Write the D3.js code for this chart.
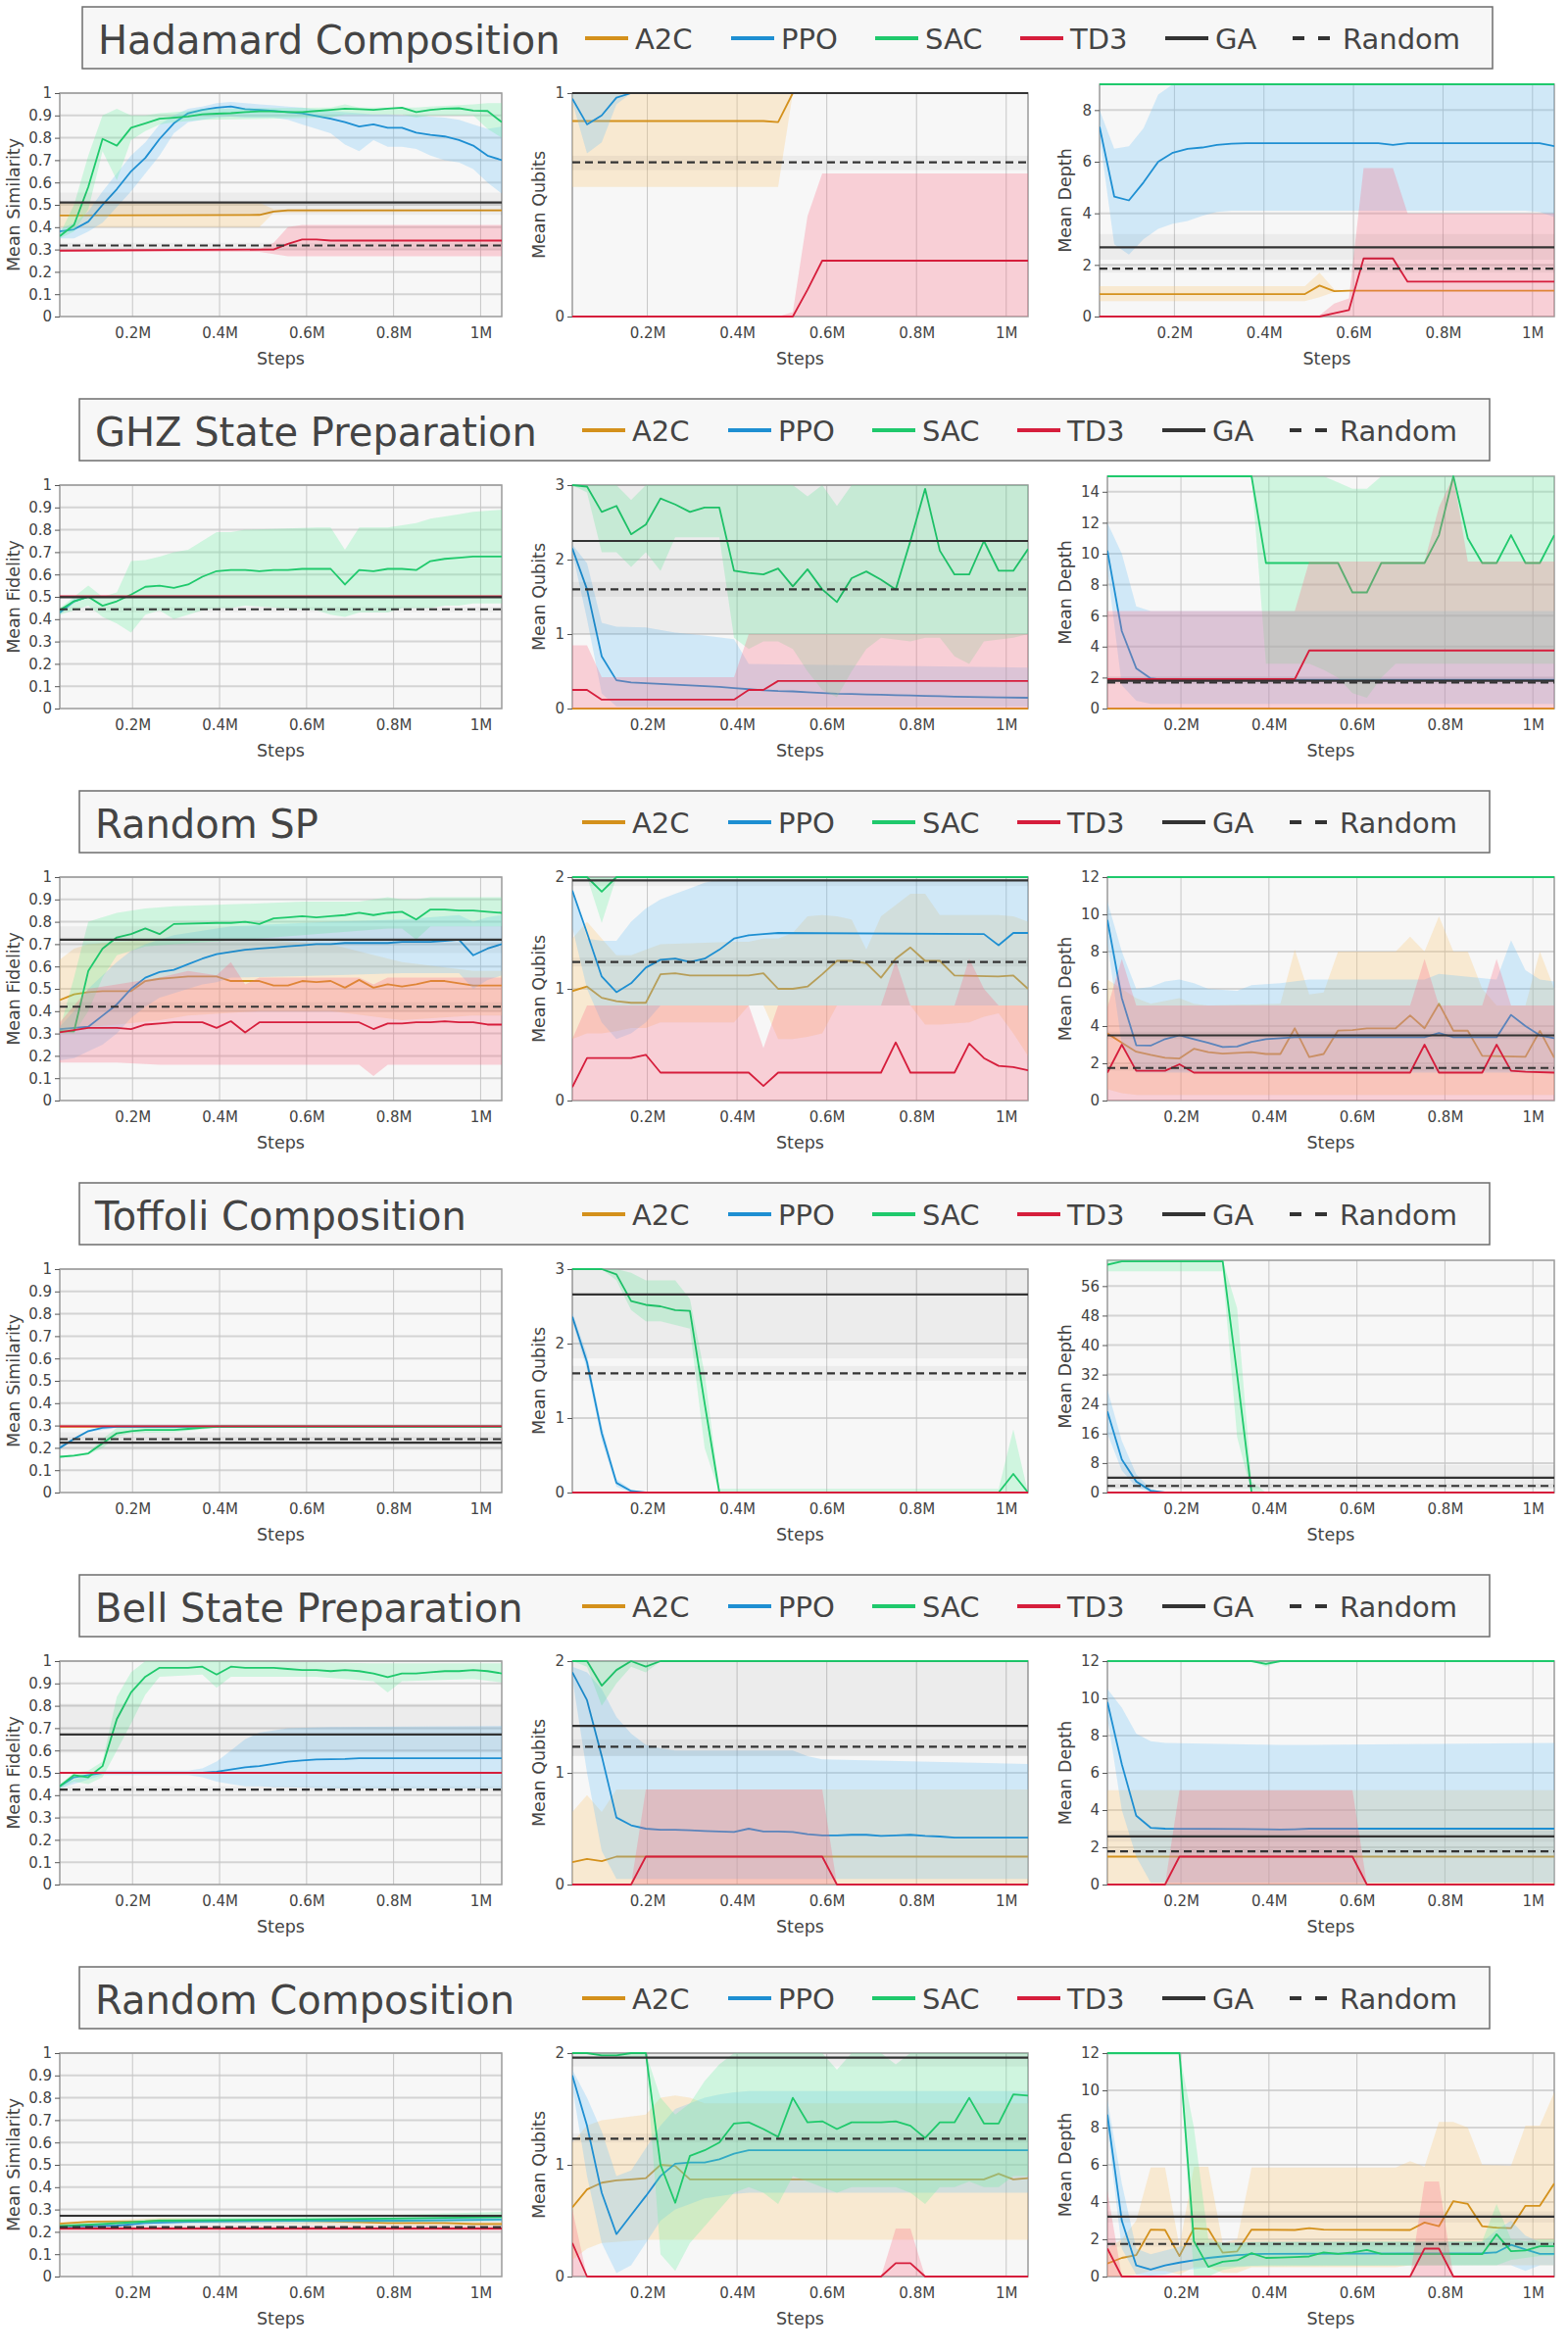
<!DOCTYPE html>
<html><head><meta charset="utf-8">
<script src="https://cdnjs.cloudflare.com/ajax/libs/d3/7.8.5/d3.min.js"></script>
<style>body{margin:0;background:#fff}svg{display:block}text{font-family:"DejaVu Sans",Verdana,sans-serif}</style>
</head><body><svg id="chart" width="1600" height="2400"></svg>
<script>
// ---------------- data ----------------
const STEP = 32768; // x = k * STEP (k = 1..32)
const X_TICKS = [200000,400000,600000,800000,1000000];
const X_TICK_LABELS = ["0.2M","0.4M","0.6M","0.8M","1M"];
const ROW_TITLES = ["Hadamard Composition","GHZ State Preparation","Random SP","Toffoli Composition","Bell State Preparation","Random Composition"];
const LEGEND_NAMES = ["A2C","PPO","SAC","TD3","GA","Random"];
const SIM_TICKS = [0,0.1,0.2,0.3,0.4,0.5,0.6,0.7,0.8,0.9,1];
const T01 = [0,1], T012 = [0,1,2], T0123 = [0,1,2,3];
const TD9 = [0,2,4,6,8], TD15 = [0,2,4,6,8,10,12,14], TD12 = [0,2,4,6,8,10,12], TD63 = [0,8,16,24,32,40,48,56];

// lines: [k, mean]; bands: [k, lo, hi]; GA / Random: [value, lo, hi]
// Hadamard Composition
const HAD_SIM_A2C = [[1,.452],[15,.455],[16,.47],[17,.475],[32,.475]];
const HAD_SIM_A2C_B = [[1,.40,.51],[15,.40,.51],[16,.465,.48],[32,.47,.48]];
const HAD_SIM_PPO = [[1,.381],[2,.39],[3,.425],[4,.50],[5,.57],[6,.65],[7,.71],[8,.795],[9,.865],[10,.91],[11,.925],[12,.935],[13,.94],[14,.928],[15,.925],[16,.92],[17,.915],[18,.91],[19,.897],[20,.885],[21,.87],[22,.85],[23,.86],[24,.845],[25,.845],[26,.823],[27,.813],[28,.806],[29,.79],[30,.765],[31,.72],[32,.70]];
const HAD_SIM_PPO_B = [[1,.35,.39],[2,.35,.42],[3,.38,.47],[4,.42,.56],[5,.49,.64],[6,.56,.72],[7,.64,.78],[8,.72,.86],[9,.82,.90],[10,.87,.93],[11,.88,.94],[12,.89,.955],[13,.895,.96],[14,.89,.955],[15,.89,.95],[16,.89,.945],[17,.88,.94],[18,.86,.935],[19,.84,.925],[20,.82,.92],[21,.77,.915],[22,.74,.91],[23,.79,.905],[24,.76,.905],[25,.76,.90],[26,.75,.90],[27,.72,.895],[28,.70,.89],[29,.69,.88],[30,.66,.86],[31,.60,.84],[32,.55,.85]];
const HAD_SIM_SAC = [[1,.36],[2,.41],[3,.58],[4,.795],[5,.765],[6,.845],[7,.865],[8,.885],[9,.89],[10,.895],[11,.905],[12,.908],[13,.91],[14,.915],[15,.918],[16,.918],[17,.915],[18,.915],[19,.92],[20,.925],[21,.93],[22,.928],[23,.925],[24,.93],[25,.935],[26,.915],[27,.925],[28,.93],[29,.932],[30,.922],[31,.92],[32,.87]];
const HAD_SIM_SAC_B = [[1,.35,.37],[2,.38,.50],[3,.48,.72],[4,.74,.90],[5,.61,.93],[6,.79,.90],[7,.83,.90],[8,.86,.91],[9,.87,.915],[10,.875,.92],[11,.88,.93],[20,.89,.935],[21,.905,.95],[22,.905,.935],[25,.905,.935],[26,.89,.935],[27,.90,.94],[30,.90,.95],[31,.84,.955],[32,.80,.955]];
const HAD_SIM_TD3 = [[1,.295],[16,.30],[17,.325],[18,.345],[19,.345],[20,.34],[32,.34]];
const HAD_SIM_TD3_B = [[1,.29,.30],[15,.29,.30],[16,.28,.33],[17,.27,.40],[18,.27,.41],[32,.27,.41]];
const HAD_SIM_GA = [.51,.455,.555], HAD_SIM_RND = [.318,.305,.33];

const HAD_QUB_A2C = [[1,.875],[14,.875],[15,.87],[16,1],[32,1]];
const HAD_QUB_A2C_B = [[1,.58,1],[15,.58,1],[16,1,1],[32,1,1]];
const HAD_QUB_PPO = [[1,.975],[2,.86],[3,.90],[4,.98],[5,1],[32,1]];
const HAD_QUB_PPO_B = [[1,.96,1],[2,.73,1],[3,.78,1],[4,.95,1],[5,1,1],[32,1,1]];
const HAD_QUB_SAC = [[1,1],[32,1]];
const HAD_QUB_SAC_B = null;
const HAD_QUB_TD3 = [[1,0],[16,0],[17,.12],[18,.25],[32,.25]];
const HAD_QUB_TD3_B = [[1,0,0],[15,0,0],[16,0,.02],[17,0,.45],[18,0,.64],[32,0,.64]];
const HAD_QUB_GA = [1,1,1], HAD_QUB_RND = [.69,.655,.72];

const HAD_DEP_A2C = [[1,.87],[15,.87],[16,1.2],[17,.98],[18,1],[32,1]];
const HAD_DEP_A2C_B = [[1,.6,1.18],[15,.6,1.18],[16,.75,1.7],[17,.95,1.05],[18,1,1],[32,1,1]];
const HAD_DEP_PPO = [[1,7.35],[2,4.65],[3,4.5],[4,5.2],[5,6.0],[6,6.35],[7,6.5],[8,6.55],[9,6.65],[10,6.7],[11,6.72],[20,6.72],[21,6.65],[22,6.72],[31,6.72],[32,6.6]];
const HAD_DEP_PPO_B = [[1,7.0,8.0],[2,2.8,6.5],[3,2.4,6.6],[4,3.0,7.3],[5,3.4,8.6],[6,3.6,9],[7,3.7,9],[8,3.9,9],[9,4.05,9],[10,4.1,9],[30,4.1,9],[31,4.05,9],[32,3.85,9]];
const HAD_DEP_SAC = [[1,9],[32,9]];
const HAD_DEP_SAC_B = null;
const HAD_DEP_TD3 = [[1,0],[16,0],[17,.13],[18,.25],[19,2.25],[21,2.25],[22,1.35],[32,1.35]];
const HAD_DEP_TD3_B = [[1,0,0],[16,0,.05],[17,0,.5],[18,0,.7],[19,0,5.75],[21,0,5.75],[22,0,4.0],[32,0,4.0]];
const HAD_DEP_GA = [2.68,2.2,3.2], HAD_DEP_RND = [1.855,1.7,2.0];

// GHZ State Preparation
const GHZ_FID_A2C = [[1,.5],[32,.5]];
const GHZ_FID_A2C_B = null;
const GHZ_FID_PPO = [[1,.43],[2,.48],[3,.50],[32,.50]];
const GHZ_FID_PPO_B = [[1,.42,.44],[2,.47,.49],[3,.5,.5],[32,.5,.5]];
const GHZ_FID_SAC = [[1,.44],[2,.48],[3,.50],[4,.46],[5,.48],[6,.51],[7,.545],[8,.55],[9,.54],[10,.555],[11,.59],[12,.615],[13,.62],[14,.62],[15,.615],[16,.62],[17,.62],[18,.625],[19,.625],[20,.625],[21,.555],[22,.62],[23,.615],[24,.625],[25,.625],[26,.62],[27,.66],[28,.67],[29,.675],[30,.68],[31,.68],[32,.68]];
const GHZ_FID_SAC_B = [[1,.42,.45],[2,.44,.50],[3,.46,.55],[4,.41,.50],[5,.38,.52],[6,.34,.66],[7,.42,.665],[8,.44,.68],[9,.40,.70],[10,.42,.71],[11,.44,.75],[12,.45,.79],[13,.45,.79],[14,.46,.80],[19,.44,.81],[20,.42,.81],[21,.41,.71],[22,.43,.81],[24,.43,.81],[25,.45,.82],[26,.45,.83],[27,.45,.85],[28,.46,.86],[29,.46,.87],[30,.47,.88],[32,.47,.89]];
const GHZ_FID_TD3 = [[1,.503],[32,.503]];
const GHZ_FID_TD3_B = null;
const GHZ_FID_GA = [.498,.498,.498], GHZ_FID_RND = [.444,.43,.455];

const GHZ_QUB_A2C = [[1,0],[32,0]];
const GHZ_QUB_A2C_B = null;
const GHZ_QUB_PPO = [[1,2.15],[2,1.6],[3,.7],[4,.38],[5,.35],[6,.34],[7,.33],[8,.32],[9,.31],[10,.30],[11,.29],[12,.275],[13,.26],[14,.245],[15,.235],[16,.23],[17,.22],[18,.21],[19,.20],[20,.195],[21,.19],[22,.185],[23,.18],[24,.175],[25,.17],[26,.165],[27,.16],[28,.155],[30,.15],[32,.145]];
const GHZ_QUB_PPO_B = [[1,2.1,2.2],[2,1.2,1.95],[3,.2,1.15],[4,.03,1.1],[6,.03,1.09],[8,.03,1.02],[10,.03,.98],[12,.03,.93],[13,.03,.6],[32,.03,.55]];
const GHZ_QUB_SAC = [[1,3],[2,2.98],[3,2.64],[4,2.72],[5,2.34],[6,2.47],[7,2.82],[8,2.74],[9,2.64],[10,2.7],[11,2.7],[12,1.85],[13,1.82],[14,1.8],[15,1.88],[16,1.64],[17,1.87],[18,1.6],[19,1.43],[20,1.75],[21,1.84],[22,1.73],[23,1.6],[24,2.25],[25,2.95],[26,2.12],[27,1.8],[28,1.8],[29,2.25],[30,1.85],[31,1.85],[32,2.14]];
const GHZ_QUB_SAC_B = [[1,3,3],[2,2.9,3],[3,2.1,3],[4,2.1,3],[5,1.9,2.8],[6,2.1,3],[7,1.85,3],[8,2.3,3],[11,2.3,3],[12,.95,3],[13,.8,3],[14,.9,3],[15,.9,3],[16,.8,3],[17,.5,2.85],[18,.25,3],[19,.15,2.72],[20,.5,3],[21,.8,3],[22,.95,3],[24,.9,3],[25,.95,3],[26,.95,3],[27,.7,3],[28,.6,3],[29,.9,3],[31,.95,3],[32,1.0,3]];
const GHZ_QUB_TD3 = [[1,.25],[2,.25],[3,.12],[12,.12],[13,.25],[14,.25],[15,.37],[32,.37]];
const GHZ_QUB_TD3_B = [[1,0,.85],[2,0,.85],[3,0,.42],[12,0,.42],[13,0,1.0],[32,0,1.0]];
const GHZ_QUB_GA = [2.25,1.0,3.0], GHZ_QUB_RND = [1.6,1.5,1.7];

const GHZ_DEP_A2C = [[1,0],[32,0]];
const GHZ_DEP_A2C_B = null;
const GHZ_DEP_PPO = [[1,10.2],[2,5.0],[3,2.6],[4,1.95],[5,1.85],[32,1.85]];
const GHZ_DEP_PPO_B = [[1,9,12],[2,1.5,10],[3,.5,6.6],[4,.3,6.3],[32,.3,6.3]];
const GHZ_DEP_SAC = [[1,15],[11,15],[12,9.4],[17,9.4],[18,7.5],[19,7.5],[20,9.4],[23,9.4],[24,11.2],[25,15],[26,11],[27,9.4],[28,9.4],[29,11.2],[30,9.4],[31,9.4],[32,11.2]];
const GHZ_DEP_SAC_B = [[1,15,15],[11,15,15],[12,2.9,15],[15,2.9,15],[16,2.5,15],[17,2.0,14.6],[18,1.0,14.2],[19,.7,14.2],[20,2.0,15],[21,2.9,15],[32,2.9,15]];
const GHZ_DEP_TD3 = [[1,1.9],[14,1.9],[15,3.75],[32,3.75]];
const GHZ_DEP_TD3_B = [[1,0,6.3],[14,0,6.3],[15,0,9.5],[23,0,9.5],[24,0,13],[25,0,15],[26,0,9.5],[32,0,9.5]];
const GHZ_DEP_GA = [1.8,1.8,1.8], GHZ_DEP_RND = [1.68,1.6,1.76];

// Random SP
const RSP_FID_A2C = [[1,.45],[2,.475],[3,.485],[4,.49],[6,.49],[7,.535],[8,.545],[9,.55],[10,.555],[12,.555],[13,.535],[15,.535],[16,.515],[17,.515],[18,.535],[19,.53],[20,.535],[21,.505],[22,.54],[23,.505],[24,.52],[25,.51],[26,.52],[27,.535],[28,.535],[29,.525],[30,.515],[32,.515]];
const RSP_FID_A2C_B = [[1,.30,.63],[2,.32,.68],[3,.33,.70],[5,.34,.71],[8,.36,.72],[10,.38,.72],[15,.40,.72],[20,.40,.70],[25,.36,.62],[30,.38,.58],[32,.38,.58]];
const RSP_FID_PPO = [[1,.32],[2,.325],[3,.33],[4,.38],[5,.43],[6,.50],[7,.55],[8,.575],[9,.585],[10,.61],[11,.635],[12,.655],[13,.665],[14,.675],[15,.68],[16,.685],[17,.69],[18,.695],[19,.70],[20,.70],[21,.705],[24,.705],[25,.71],[27,.71],[28,.715],[29,.72],[30,.65],[31,.68],[32,.70]];
const RSP_FID_PPO_B = [[1,.18,.33],[2,.19,.40],[3,.22,.50],[4,.25,.56],[5,.30,.62],[6,.37,.67],[7,.42,.70],[8,.46,.72],[9,.48,.74],[10,.50,.75],[11,.52,.76],[12,.53,.77],[13,.55,.78],[20,.56,.80],[25,.57,.81],[29,.57,.83],[30,.50,.80],[31,.54,.82],[32,.56,.83]];
const RSP_FID_SAC = [[1,.31],[2,.31],[3,.58],[4,.68],[5,.73],[6,.745],[7,.77],[8,.745],[9,.79],[12,.795],[13,.795],[14,.80],[15,.79],[16,.815],[17,.82],[18,.825],[19,.82],[20,.825],[21,.83],[22,.84],[23,.83],[24,.84],[25,.845],[26,.81],[27,.855],[28,.855],[29,.85],[30,.85],[31,.845],[32,.84]];
const RSP_FID_SAC_B = [[1,.30,.32],[2,.30,.55],[3,.40,.80],[4,.55,.82],[5,.65,.84],[6,.67,.85],[7,.69,.86],[9,.70,.87],[14,.72,.88],[18,.74,.89],[22,.76,.89],[24,.77,.91],[25,.77,.90],[26,.72,.90],[27,.78,.91],[32,.78,.91]];
const RSP_FID_TD3 = [[1,.305],[2,.315],[3,.325],[5,.325],[6,.32],[7,.34],[8,.345],[9,.35],[11,.35],[12,.325],[13,.355],[14,.305],[15,.35],[22,.35],[23,.32],[24,.345],[25,.345],[26,.35],[27,.35],[28,.355],[29,.35],[30,.35],[31,.34],[32,.34]];
const RSP_FID_TD3_B = [[1,.17,.35],[3,.17,.50],[5,.17,.52],[8,.16,.55],[10,.16,.58],[12,.16,.56],[13,.16,.62],[14,.16,.52],[15,.16,.55],[22,.16,.55],[23,.11,.52],[24,.16,.55],[32,.16,.55]];
const RSP_FID_GA = [.72,.66,.78], RSP_FID_RND = [.42,.40,.44];

const RSP_QUB_A2C = [[1,.98],[2,1.02],[3,.92],[4,.89],[5,.875],[6,.875],[7,1.13],[8,1.14],[9,1.12],[13,1.12],[14,1.14],[15,1.0],[16,1.0],[17,1.02],[18,1.13],[19,1.25],[20,1.25],[21,1.23],[22,1.1],[23,1.27],[24,1.37],[25,1.25],[26,1.25],[27,1.12],[30,1.11],[31,1.12],[32,1.0]];
const RSP_QUB_A2C_B = [[1,.55,1.45],[2,.6,1.6],[3,.6,1.45],[4,.62,1.3],[5,.65,1.3],[6,.65,1.35],[7,.7,1.4],[12,.7,1.42],[13,.85,1.42],[14,.85,1.45],[15,.55,1.45],[16,.55,1.5],[17,.57,1.65],[18,.6,1.66],[19,.85,1.65],[20,.85,1.62],[21,.85,1.35],[22,.85,1.65],[23,.85,1.75],[24,.85,1.85],[25,.68,1.85],[26,.68,1.66],[28,.7,1.66],[29,.75,1.66],[30,.78,1.66],[31,.6,1.65],[32,.4,1.6]];
const RSP_QUB_PPO = [[1,1.88],[2,1.5],[3,1.11],[4,.97],[5,1.05],[6,1.19],[7,1.26],[8,1.27],[9,1.24],[10,1.27],[11,1.35],[12,1.45],[13,1.48],[14,1.49],[15,1.5],[29,1.49],[30,1.39],[31,1.5],[32,1.5]];
const RSP_QUB_PPO_B = [[1,1.55,1.9],[2,1.0,1.45],[3,.7,1.43],[4,.55,1.43],[5,.6,1.6],[6,.7,1.72],[7,.85,1.8],[8,.85,1.85],[9,.85,1.9],[10,.85,1.95],[11,.85,1.98],[32,.85,1.98]];
const RSP_QUB_SAC = [[1,2],[2,2],[3,1.87],[4,2],[32,2]];
const RSP_QUB_SAC_B = [[1,2,2],[2,2,2],[3,1.59,2],[4,2,2],[32,2,2]];
const RSP_QUB_TD3 = [[1,.12],[2,.38],[5,.38],[6,.41],[7,.25],[13,.25],[14,.13],[15,.25],[22,.25],[23,.52],[24,.25],[27,.25],[28,.51],[29,.38],[30,.31],[31,.30],[32,.27]];
const RSP_QUB_TD3_B = [[1,0,.55],[2,0,.85],[13,0,.85],[14,0,.47],[15,0,.85],[22,0,.85],[23,0,1.25],[24,0,.85],[27,0,.85],[28,0,1.27],[29,0,1.0],[30,0,.85],[32,0,.85]];
const RSP_QUB_GA = [1.97,1.92,2.0], RSP_QUB_RND = [1.24,1.2,1.28];

const RSP_DEP_A2C = [[1,3.6],[2,3.1],[3,2.62],[4,2.45],[5,2.3],[6,2.26],[7,2.78],[8,2.6],[9,2.52],[11,2.6],[12,2.5],[13,2.5],[14,3.88],[15,2.34],[16,2.5],[17,3.76],[18,3.78],[19,3.88],[21,3.88],[22,4.57],[23,3.88],[24,5.2],[25,3.75],[26,3.75],[27,2.4],[30,2.35],[31,3.74],[32,2.3]];
const RSP_DEP_A2C_B = [[1,.6,6.5],[2,.4,6.0],[3,.3,5.5],[4,.3,5.2],[6,.3,5.5],[7,.3,5.2],[8,.3,5.1],[13,.3,5.2],[14,.3,8.1],[15,.3,5.7],[16,.3,5.8],[17,.3,8.0],[21,.3,8.0],[22,.3,8.8],[23,.3,8.0],[24,.3,9.9],[25,.3,8.0],[26,.3,8.0],[27,.3,6.0],[28,.3,5.1],[30,.3,5.1],[31,.3,8.0],[32,.3,6.0]];
const RSP_DEP_PPO = [[1,9.7],[2,5.5],[3,2.97],[4,2.95],[5,3.3],[6,3.5],[7,3.3],[8,3.1],[9,2.87],[10,2.9],[11,3.15],[12,3.3],[13,3.35],[14,3.4],[23,3.4],[24,3.62],[25,3.4],[28,3.4],[29,4.6],[30,4.0],[31,3.5],[32,3.35]];
const RSP_DEP_PPO_B = [[1,8.5,10.7],[2,3,8],[3,1.5,6.0],[4,1.5,6.1],[5,1.5,6.4],[6,1.5,6.5],[7,1.5,6.3],[8,1.5,6.0],[10,1.5,5.9],[11,1.5,6.2],[13,1.5,6.3],[15,1.5,6.5],[23,1.5,6.5],[24,1.5,6.8],[28,1.5,6.5],[29,1.5,8.6],[30,1.5,7.0],[31,1.5,6.5],[32,1.5,6.4]];
const RSP_DEP_SAC = [[1,12],[32,12]];
const RSP_DEP_SAC_B = null;
const RSP_DEP_TD3 = [[1,1.5],[2,3.0],[3,1.6],[5,1.6],[6,1.95],[7,1.5],[22,1.5],[23,3.0],[24,1.5],[27,1.5],[28,3.0],[29,1.6],[30,1.55],[32,1.5]];
const RSP_DEP_TD3_B = [[1,0,5.0],[2,0,7.6],[3,0,5.1],[22,0,5.1],[23,0,7.6],[24,0,5.1],[27,0,5.1],[28,0,7.6],[29,0,5.1],[32,0,5.1]];
const RSP_DEP_GA = [3.5,3.3,3.7], RSP_DEP_RND = [1.75,1.6,1.9];

// Toffoli Composition
const TOF_SIM_A2C = [[1,.295],[32,.295]];
const TOF_SIM_A2C_B = null;
const TOF_SIM_PPO = [[1,.20],[2,.24],[3,.275],[4,.29],[5,.295],[32,.295]];
const TOF_SIM_PPO_B = [[1,.195,.21],[3,.27,.28],[5,.29,.30],[32,.29,.30]];
const TOF_SIM_SAC = [[1,.16],[2,.165],[3,.175],[4,.22],[5,.265],[6,.275],[7,.28],[9,.28],[10,.285],[11,.29],[12,.295],[32,.295]];
const TOF_SIM_SAC_B = [[1,.155,.165],[3,.17,.18],[4,.20,.24],[5,.25,.29],[6,.265,.29],[9,.27,.29],[12,.29,.30],[32,.29,.30]];
const TOF_SIM_TD3 = [[1,.297],[32,.297]];
const TOF_SIM_TD3_B = null;
const TOF_SIM_GA = [.223,.19,.27], TOF_SIM_RND = [.239,.23,.25];

const TOF_QUB_A2C = [[1,0],[32,0]];
const TOF_QUB_A2C_B = null;
const TOF_QUB_PPO = [[1,2.36],[2,1.75],[3,.8],[4,.13],[5,.02],[6,0],[32,0]];
const TOF_QUB_PPO_B = [[1,2.3,2.42],[2,1.65,1.85],[3,.7,.9],[4,.08,.18],[5,0,.04],[6,0,0],[32,0,0]];
const TOF_QUB_SAC = [[1,3],[3,3],[4,2.93],[5,2.57],[6,2.52],[7,2.5],[8,2.45],[9,2.44],[10,1.2],[11,0],[30,0],[31,.25],[32,0]];
const TOF_QUB_SAC_B = [[1,3,3],[3,3,3],[4,2.85,3],[5,2.45,2.95],[6,2.3,2.85],[7,2.3,2.85],[8,2.25,2.85],[9,2.2,2.6],[10,.6,1.6],[11,0,.05],[30,0,.05],[31,0,.85],[32,0,0]];
const TOF_QUB_TD3 = [[1,0],[32,0]];
const TOF_QUB_TD3_B = null;
const TOF_QUB_GA = [2.66,1.8,3.0], TOF_QUB_RND = [1.6,1.5,1.7];

const TOF_DEP_A2C = [[1,0],[32,0]];
const TOF_DEP_A2C_B = null;
const TOF_DEP_PPO = [[1,22],[2,9],[3,3],[4,.5],[5,0],[32,0]];
const TOF_DEP_PPO_B = [[1,16,28],[2,6,14],[3,1.5,5],[4,0,1],[5,0,0],[32,0,0]];
const TOF_DEP_SAC = [[1,61.8],[2,62.7],[9,62.7],[10,32],[11,0],[32,0]];
const TOF_DEP_SAC_B = [[1,60,63],[9,60,63],[10,15,50],[11,0,3],[12,0,0],[32,0,0]];
const TOF_DEP_TD3 = [[1,0],[32,0]];
const TOF_DEP_TD3_B = null;
const TOF_DEP_GA = [4.0,1.0,7.5], TOF_DEP_RND = [1.8,1.2,2.4];

// Bell State Preparation
const BELL_FID_A2C = [[1,.5],[32,.5]];
const BELL_FID_A2C_B = null;
const BELL_FID_PPO = [[1,.44],[2,.48],[3,.49],[4,.50],[11,.50],[12,.505],[13,.515],[14,.525],[15,.53],[16,.54],[17,.55],[18,.555],[19,.56],[21,.562],[22,.565],[32,.565]];
const BELL_FID_PPO_B = [[1,.43,.45],[4,.49,.51],[10,.49,.51],[11,.48,.52],[12,.46,.55],[13,.45,.60],[14,.44,.65],[15,.44,.68],[16,.435,.69],[17,.435,.70],[20,.43,.705],[32,.43,.71]];
const BELL_FID_SAC = [[1,.44],[2,.49],[3,.48],[4,.53],[5,.74],[6,.86],[7,.93],[8,.97],[10,.97],[11,.975],[12,.94],[13,.975],[14,.97],[16,.97],[17,.965],[18,.96],[19,.96],[20,.955],[21,.96],[22,.955],[23,.945],[24,.928],[25,.945],[26,.945],[27,.95],[28,.955],[29,.955],[30,.96],[31,.955],[32,.945]];
const BELL_FID_SAC_B = [[1,.43,.45],[2,.46,.50],[3,.45,.51],[4,.48,.55],[5,.60,.84],[6,.72,.95],[7,.85,1],[8,.93,1],[11,.94,1],[12,.88,1],[13,.93,1],[19,.93,.995],[23,.91,.99],[24,.86,.99],[25,.91,.99],[30,.92,.99],[32,.905,.99]];
const BELL_FID_TD3 = [[1,.5],[32,.5]];
const BELL_FID_TD3_B = null;
const BELL_FID_GA = [.672,.59,.81], BELL_FID_RND = [.425,.41,.44];

const BELL_QUB_A2C = [[1,.2],[2,.23],[3,.21],[4,.25],[32,.25]];
const BELL_QUB_A2C_B = [[1,0,.65],[2,0,.8],[3,0,.65],[4,0,.85],[32,0,.85]];
const BELL_QUB_PPO = [[1,1.9],[2,1.65],[3,1.15],[4,.6],[5,.53],[6,.5],[7,.49],[8,.49],[9,.485],[10,.48],[11,.475],[12,.47],[13,.5],[14,.475],[15,.475],[16,.47],[17,.45],[18,.44],[19,.44],[20,.445],[21,.445],[22,.435],[23,.44],[24,.445],[25,.435],[26,.43],[27,.42],[32,.42]];
const BELL_QUB_PPO_B = [[1,1.85,1.95],[2,1.0,1.9],[3,.3,1.75],[4,.05,1.5],[5,.05,1.35],[6,.05,1.25],[7,.05,1.22],[8,.05,1.2],[16,.05,1.2],[17,.05,1.15],[18,.05,1.12],[32,.05,1.08]];
const BELL_QUB_SAC = [[1,2],[2,2],[3,1.78],[4,1.92],[5,2],[6,1.95],[7,2],[32,2]];
const BELL_QUB_SAC_B = [[1,2,2],[2,1.95,2],[3,1.6,2],[4,1.8,2],[5,1.95,2],[6,1.9,2],[7,2,2],[32,2,2]];
const BELL_QUB_TD3 = [[1,0],[5,0],[6,.25],[18,.25],[19,0],[32,0]];
const BELL_QUB_TD3_B = [[1,0,0],[5,0,0],[6,0,.85],[18,0,.85],[19,0,0],[32,0,0]];
const BELL_QUB_GA = [1.42,1.15,2.0], BELL_QUB_RND = [1.234,1.15,1.3];

const BELL_DEP_A2C = [[1,1.5],[32,1.5]];
const BELL_DEP_A2C_B = [[1,0,5.07],[32,0,5.07]];
const BELL_DEP_PPO = [[1,9.8],[2,6.46],[3,3.7],[4,3.05],[5,3.0],[12,2.97],[13,2.95],[14,2.97],[15,3.0],[32,3.0]];
const BELL_DEP_PPO_B = [[1,9,10.5],[2,4,9.5],[3,1.5,8.1],[4,.1,7.7],[5,.1,7.6],[13,.1,7.5],[15,.1,7.5],[32,.1,7.6]];
const BELL_DEP_SAC = [[1,12],[11,12],[12,11.85],[13,12],[32,12]];
const BELL_DEP_SAC_B = [[1,12,12],[11,12,12],[12,11.7,12],[13,12,12],[32,12,12]];
const BELL_DEP_TD3 = [[1,0],[5,0],[6,1.5],[18,1.5],[19,0],[32,0]];
const BELL_DEP_TD3_B = [[1,0,0],[5,0,0],[6,0,5.07],[18,0,5.07],[19,0,0],[32,0,0]];
const BELL_DEP_GA = [2.59,2.3,2.9], BELL_DEP_RND = [1.78,1.7,1.9];

// Random Composition
const RC_SIM_A2C = [[1,.236],[3,.245],[7,.247],[8,.252],[12,.25],[18,.25],[21,.245],[24,.24],[28,.24],[30,.235],[32,.235]];
const RC_SIM_A2C_B = [[1,.225,.245],[8,.24,.262],[32,.225,.245]];
const RC_SIM_PPO = [[1,.222],[5,.228],[7,.24],[10,.245],[17,.25],[25,.25],[32,.255]];
const RC_SIM_PPO_B = [[1,.215,.23],[10,.235,.255],[32,.245,.265]];
const RC_SIM_SAC = [[1,.226],[4,.235],[8,.25],[17,.255],[24,.259],[32,.266]];
const RC_SIM_SAC_B = [[1,.22,.235],[8,.24,.26],[24,.245,.275],[32,.25,.29]];
const RC_SIM_TD3 = [[1,.215],[32,.215]];
const RC_SIM_TD3_B = [[1,.205,.225],[32,.205,.225]];
const RC_SIM_GA = [.272,.262,.282], RC_SIM_RND = [.221,.212,.232];

const RC_QUB_A2C = [[1,.62],[2,.78],[3,.84],[4,.86],[5,.87],[6,.88],[7,1.0],[8,.99],[9,.87],[29,.87],[30,.92],[31,.87],[32,.88]];
const RC_QUB_A2C_B = [[1,.15,1.2],[2,.25,1.35],[3,.3,1.4],[6,.33,1.45],[7,.33,1.6],[8,.33,1.62],[9,.33,1.6],[10,.33,1.55],[32,.33,1.55]];
const RC_QUB_PPO = [[1,1.8],[2,1.35],[3,.75],[4,.38],[5,.55],[6,.72],[7,.9],[8,1.01],[9,1.02],[10,1.02],[11,1.05],[12,1.1],[13,1.13],[32,1.13]];
const RC_QUB_PPO_B = [[1,1.7,1.85],[2,.9,1.6],[3,.3,1.3],[4,.03,.9],[5,.1,.95],[6,.3,1.15],[7,.5,1.35],[8,.6,1.5],[9,.65,1.55],[10,.7,1.6],[11,.72,1.63],[12,.74,1.65],[13,.75,1.66],[32,.75,1.66]];
const RC_QUB_SAC = [[1,2],[2,2],[3,1.98],[4,1.98],[5,2],[6,2],[7,1.0],[8,.66],[9,1.08],[10,1.13],[11,1.2],[12,1.37],[13,1.38],[14,1.32],[15,1.25],[16,1.6],[17,1.38],[18,1.39],[19,1.32],[20,1.38],[22,1.38],[23,1.39],[24,1.35],[25,1.24],[26,1.38],[27,1.38],[28,1.6],[29,1.37],[30,1.37],[31,1.63],[32,1.62]];
const RC_QUB_SAC_B = [[1,2,2],[6,1.95,2],[7,.2,1.6],[8,.05,1.45],[9,.3,1.55],[10,.45,1.75],[11,.6,1.9],[12,.75,2],[13,.8,2],[14,.75,2],[15,.65,2],[16,.9,2],[17,.85,2],[18,.8,2],[19,.75,1.85],[20,.8,2],[22,.8,2],[23,.8,1.9],[24,.75,2],[25,.65,2],[26,.8,2],[27,.8,2],[28,.85,2],[29,.8,2],[30,.8,2],[31,.9,2],[32,.9,2]];
const RC_QUB_TD3 = [[1,.3],[2,0],[22,0],[23,.12],[24,.12],[25,0],[32,0]];
const RC_QUB_TD3_B = [[1,0,.6],[2,0,0],[22,0,0],[23,0,.43],[24,0,.43],[25,0,0],[32,0,0]];
const RC_QUB_GA = [1.96,1.88,2.0], RC_QUB_RND = [1.234,1.2,1.28];

const RC_DEP_A2C = [[1,.7],[2,1.0],[3,1.15],[4,2.52],[5,2.5],[6,1.1],[7,2.59],[8,2.55],[9,1.28],[10,1.35],[11,2.52],[14,2.5],[15,2.6],[16,2.52],[22,2.5],[23,2.9],[24,2.7],[25,4.05],[26,3.9],[27,2.7],[28,2.62],[29,2.6],[30,3.8],[31,3.8],[32,5.0]];
const RC_DEP_A2C_B = [[1,0,1.5],[2,0,2.0],[3,.1,3.0],[4,.3,5.85],[5,.3,5.85],[6,.1,1.6],[7,.5,5.9],[8,.5,5.9],[9,.2,1.8],[10,.2,2.0],[11,.5,5.85],[21,.5,5.85],[22,.6,6.2],[23,.6,5.9],[24,.6,8.3],[25,.6,8.3],[26,.6,8.0],[27,.6,6.0],[29,.6,5.95],[30,.6,8.1],[31,.6,8.1],[32,.6,9.9]];
const RC_DEP_PPO = [[1,8.7],[2,3.0],[3,.6],[4,.38],[5,.6],[6,.75],[7,.87],[8,1.0],[9,1.08],[10,1.15],[11,1.2],[12,1.22],[27,1.25],[28,1.3],[29,1.7],[30,1.45],[31,1.22],[32,1.22]];
const RC_DEP_PPO_B = [[1,8,9.5],[2,1.5,5],[3,.1,1.5],[4,.05,1.2],[5,.1,1.4],[6,.3,1.6],[7,.4,1.7],[8,.5,1.8],[12,.6,1.85],[27,.6,1.85],[28,.6,2.5],[29,.6,3.0],[30,.3,2.2],[31,.6,1.85],[32,.6,1.85]];
const RC_DEP_SAC = [[1,12],[6,12],[7,1.9],[8,.52],[9,.8],[10,.87],[11,1.26],[12,1.0],[13,1.02],[14,1.05],[15,1.08],[16,1.3],[17,1.22],[18,1.3],[19,1.43],[20,1.22],[27,1.2],[28,2.27],[29,1.36],[30,1.4],[31,1.62],[32,1.63]];
const RC_DEP_SAC_B = [[1,11.9,12],[6,11.9,12],[7,0,8],[8,0,2],[9,.35,1.8],[10,.5,1.8],[11,.55,1.85],[27,.6,1.9],[28,.6,3.9],[29,.9,2.0],[30,1.0,1.9],[31,1.1,2.0],[32,1.1,2.0]];
const RC_DEP_TD3 = [[1,1.5],[2,0],[22,0],[23,1.5],[24,1.5],[25,0],[32,0]];
const RC_DEP_TD3_B = [[1,0,4.6],[2,0,0],[22,0,0],[23,0,5.1],[24,0,5.1],[25,0,0],[32,0,0]];
const RC_DEP_GA = [3.22,2.9,3.5], RC_DEP_RND = [1.75,1.6,1.9];

// ---------------- panel table ----------------
const PANELS = [
 {r:0,c:0,ylab:"Mean Similarity",dom:[0,1],ticks:SIM_TICKS,lines:[HAD_SIM_A2C,HAD_SIM_PPO,HAD_SIM_SAC,HAD_SIM_TD3],bands:[HAD_SIM_A2C_B,HAD_SIM_PPO_B,HAD_SIM_SAC_B,HAD_SIM_TD3_B],ga:HAD_SIM_GA,rnd:HAD_SIM_RND},
 {r:0,c:1,ylab:"Mean Qubits",dom:[0,1],ticks:T01,lines:[HAD_QUB_A2C,HAD_QUB_PPO,HAD_QUB_SAC,HAD_QUB_TD3],bands:[HAD_QUB_A2C_B,HAD_QUB_PPO_B,HAD_QUB_SAC_B,HAD_QUB_TD3_B],ga:HAD_QUB_GA,rnd:HAD_QUB_RND},
 {r:0,c:2,ylab:"Mean Depth",dom:[0,9],ticks:TD9,lines:[HAD_DEP_A2C,HAD_DEP_PPO,HAD_DEP_SAC,HAD_DEP_TD3],bands:[HAD_DEP_A2C_B,HAD_DEP_PPO_B,HAD_DEP_SAC_B,HAD_DEP_TD3_B],ga:HAD_DEP_GA,rnd:HAD_DEP_RND},
 {r:1,c:0,ylab:"Mean Fidelity",dom:[0,1],ticks:SIM_TICKS,lines:[GHZ_FID_A2C,GHZ_FID_PPO,GHZ_FID_SAC,GHZ_FID_TD3],bands:[GHZ_FID_A2C_B,GHZ_FID_PPO_B,GHZ_FID_SAC_B,GHZ_FID_TD3_B],ga:GHZ_FID_GA,rnd:GHZ_FID_RND},
 {r:1,c:1,ylab:"Mean Qubits",dom:[0,3],ticks:T0123,lines:[GHZ_QUB_A2C,GHZ_QUB_PPO,GHZ_QUB_SAC,GHZ_QUB_TD3],bands:[GHZ_QUB_A2C_B,GHZ_QUB_PPO_B,GHZ_QUB_SAC_B,GHZ_QUB_TD3_B],ga:GHZ_QUB_GA,rnd:GHZ_QUB_RND},
 {r:1,c:2,ylab:"Mean Depth",dom:[0,15],ticks:TD15,lines:[GHZ_DEP_A2C,GHZ_DEP_PPO,GHZ_DEP_SAC,GHZ_DEP_TD3],bands:[GHZ_DEP_A2C_B,GHZ_DEP_PPO_B,GHZ_DEP_SAC_B,GHZ_DEP_TD3_B],ga:GHZ_DEP_GA,rnd:GHZ_DEP_RND},
 {r:2,c:0,ylab:"Mean Fidelity",dom:[0,1],ticks:SIM_TICKS,lines:[RSP_FID_A2C,RSP_FID_PPO,RSP_FID_SAC,RSP_FID_TD3],bands:[RSP_FID_A2C_B,RSP_FID_PPO_B,RSP_FID_SAC_B,RSP_FID_TD3_B],ga:RSP_FID_GA,rnd:RSP_FID_RND},
 {r:2,c:1,ylab:"Mean Qubits",dom:[0,2],ticks:T012,lines:[RSP_QUB_A2C,RSP_QUB_PPO,RSP_QUB_SAC,RSP_QUB_TD3],bands:[RSP_QUB_A2C_B,RSP_QUB_PPO_B,RSP_QUB_SAC_B,RSP_QUB_TD3_B],ga:RSP_QUB_GA,rnd:RSP_QUB_RND},
 {r:2,c:2,ylab:"Mean Depth",dom:[0,12],ticks:TD12,lines:[RSP_DEP_A2C,RSP_DEP_PPO,RSP_DEP_SAC,RSP_DEP_TD3],bands:[RSP_DEP_A2C_B,RSP_DEP_PPO_B,RSP_DEP_SAC_B,RSP_DEP_TD3_B],ga:RSP_DEP_GA,rnd:RSP_DEP_RND},
 {r:3,c:0,ylab:"Mean Similarity",dom:[0,1],ticks:SIM_TICKS,lines:[TOF_SIM_A2C,TOF_SIM_PPO,TOF_SIM_SAC,TOF_SIM_TD3],bands:[TOF_SIM_A2C_B,TOF_SIM_PPO_B,TOF_SIM_SAC_B,TOF_SIM_TD3_B],ga:TOF_SIM_GA,rnd:TOF_SIM_RND},
 {r:3,c:1,ylab:"Mean Qubits",dom:[0,3],ticks:T0123,lines:[TOF_QUB_A2C,TOF_QUB_PPO,TOF_QUB_SAC,TOF_QUB_TD3],bands:[TOF_QUB_A2C_B,TOF_QUB_PPO_B,TOF_QUB_SAC_B,TOF_QUB_TD3_B],ga:TOF_QUB_GA,rnd:TOF_QUB_RND},
 {r:3,c:2,ylab:"Mean Depth",dom:[0,63],ticks:TD63,lines:[TOF_DEP_A2C,TOF_DEP_PPO,TOF_DEP_SAC,TOF_DEP_TD3],bands:[TOF_DEP_A2C_B,TOF_DEP_PPO_B,TOF_DEP_SAC_B,TOF_DEP_TD3_B],ga:TOF_DEP_GA,rnd:TOF_DEP_RND},
 {r:4,c:0,ylab:"Mean Fidelity",dom:[0,1],ticks:SIM_TICKS,lines:[BELL_FID_A2C,BELL_FID_PPO,BELL_FID_SAC,BELL_FID_TD3],bands:[BELL_FID_A2C_B,BELL_FID_PPO_B,BELL_FID_SAC_B,BELL_FID_TD3_B],ga:BELL_FID_GA,rnd:BELL_FID_RND},
 {r:4,c:1,ylab:"Mean Qubits",dom:[0,2],ticks:T012,lines:[BELL_QUB_A2C,BELL_QUB_PPO,BELL_QUB_SAC,BELL_QUB_TD3],bands:[BELL_QUB_A2C_B,BELL_QUB_PPO_B,BELL_QUB_SAC_B,BELL_QUB_TD3_B],ga:BELL_QUB_GA,rnd:BELL_QUB_RND},
 {r:4,c:2,ylab:"Mean Depth",dom:[0,12],ticks:TD12,lines:[BELL_DEP_A2C,BELL_DEP_PPO,BELL_DEP_SAC,BELL_DEP_TD3],bands:[BELL_DEP_A2C_B,BELL_DEP_PPO_B,BELL_DEP_SAC_B,BELL_DEP_TD3_B],ga:BELL_DEP_GA,rnd:BELL_DEP_RND},
 {r:5,c:0,ylab:"Mean Similarity",dom:[0,1],ticks:SIM_TICKS,lines:[RC_SIM_A2C,RC_SIM_PPO,RC_SIM_SAC,RC_SIM_TD3],bands:[RC_SIM_A2C_B,RC_SIM_PPO_B,RC_SIM_SAC_B,RC_SIM_TD3_B],ga:RC_SIM_GA,rnd:RC_SIM_RND},
 {r:5,c:1,ylab:"Mean Qubits",dom:[0,2],ticks:T012,lines:[RC_QUB_A2C,RC_QUB_PPO,RC_QUB_SAC,RC_QUB_TD3],bands:[RC_QUB_A2C_B,RC_QUB_PPO_B,RC_QUB_SAC_B,RC_QUB_TD3_B],ga:RC_QUB_GA,rnd:RC_QUB_RND},
 {r:5,c:2,ylab:"Mean Depth",dom:[0,12],ticks:TD12,lines:[RC_DEP_A2C,RC_DEP_PPO,RC_DEP_SAC,RC_DEP_TD3],bands:[RC_DEP_A2C_B,RC_DEP_PPO_B,RC_DEP_SAC_B,RC_DEP_TD3_B],ga:RC_DEP_GA,rnd:RC_DEP_RND}
];

// ---------------- styles ----------------
const LINE_COLORS = ["#d4911c","#1e8fd2","#1fc96c","#d61e3c"];
const BAND_COLORS = ["rgba(251,199,111,0.28)","rgba(107,195,247,0.28)","rgba(103,239,163,0.28)","rgba(251,103,131,0.28)"];
const GA_COLOR = "#333", REF_BAND = "rgba(0,0,0,0.045)";
const TXT = "#444";

const svg = d3.select("#chart");
svg.append("rect").attr("width",1600).attr("height",2400).attr("fill","#fff");
const defs = svg.append("defs");

// ---------------- headers ----------------
ROW_TITLES.forEach((t, r) => {
  const y0 = r * 400, dx = r === 0 ? 0 : -3;
  const g = svg.append("g");
  g.append("rect").attr("x", 84 + dx).attr("y", y0 + 7).attr("width", 1439).attr("height", 63)
    .attr("fill", "#f7f7f7").attr("stroke", "#6e6e6e").attr("stroke-width", 1.5);
  g.append("text").attr("x", 100 + dx).attr("y", y0 + 55).attr("font-size", 40).attr("fill", TXT).text(t);
  const lx = [597, 746, 893, 1041, 1189, 1319];
  LEGEND_NAMES.forEach((n, i) => {
    const x = lx[i] + dx, col = i < 4 ? LINE_COLORS[i] : GA_COLOR;
    g.append("line").attr("x1", x).attr("x2", x + 44).attr("y1", y0 + 39).attr("y2", y0 + 39)
      .attr("stroke", col).attr("stroke-width", 4).attr("stroke-dasharray", i === 5 ? "12,14" : null);
    g.append("text").attr("x", x + 51).attr("y", y0 + 50).attr("font-size", 29).attr("fill", TXT).text(n);
  });
});

// ---------------- panels ----------------
PANELS.forEach((p, idx) => {
  const y0 = p.r * 400;
  const xr = [[61, 512], [584, 1049], [p.r === 0 ? 1122 : 1130, 1586]][p.c];
  const top = (p.c === 2 && (p.r === 0 || p.r === 1 || p.r === 3)) ? 86 : 95;
  const yTop = y0 + top, yBot = y0 + 323;
  const x = d3.scaleLinear().domain([1 * STEP, 32 * STEP]).range(xr);
  const y = d3.scaleLinear().domain(p.dom).range([yBot, yTop]);
  const g = svg.append("g");

  g.append("rect").attr("x", xr[0]).attr("y", yTop).attr("width", xr[1] - xr[0]).attr("height", yBot - yTop).attr("fill", "#f7f7f7");
  // grid
  g.selectAll(null).data(p.ticks.filter(v => v > p.dom[0])).enter().append("line")
    .attr("x1", xr[0]).attr("x2", xr[1]).attr("y1", d => y(d)).attr("y2", d => y(d))
    .attr("stroke", "#d4d4d4").attr("stroke-width", 2);
  g.selectAll(null).data(X_TICKS).enter().append("line")
    .attr("x1", d => x(d)).attr("x2", d => x(d)).attr("y1", yTop).attr("y2", yBot)
    .attr("stroke", "#c6c6c6").attr("stroke-width", 1);
  g.append("rect").attr("x", xr[0]).attr("y", yTop).attr("width", xr[1] - xr[0]).attr("height", yBot - yTop)
    .attr("fill", "none").attr("stroke", "#9a9a9a").attr("stroke-width", 1.5);

  // axes labels
  const yAxis = d3.axisLeft(y).tickValues(p.ticks).tickSize(5).tickPadding(3).tickFormat(d => String(+d.toFixed(2)));
  const ya = g.append("g").attr("transform", `translate(${xr[0]},0)`).call(yAxis);
  ya.select(".domain").remove();
  ya.selectAll("line").attr("stroke", "#555");
  ya.selectAll("text").attr("font-size", 15).attr("fill", TXT).attr("font-family", '"DejaVu Sans",Verdana,sans-serif');
  const xAxis = d3.axisBottom(x).tickValues(X_TICKS).tickSize(0).tickPadding(11).tickFormat((d, i) => X_TICK_LABELS[i]);
  const xa = g.append("g").attr("transform", `translate(0,${yBot})`).call(xAxis);
  xa.select(".domain").remove();
  xa.selectAll("text").attr("font-size", 15).attr("fill", TXT).attr("font-family", '"DejaVu Sans",Verdana,sans-serif');
  g.append("text").attr("x", (xr[0] + xr[1]) / 2).attr("y", y0 + 372).attr("text-anchor", "middle")
    .attr("font-size", 17.5).attr("fill", TXT).text("Steps");
  const labX = [19.5, 556, 1093][p.c];
  g.append("text").attr("transform", `translate(${labX},${(yTop + yBot) / 2}) rotate(-90)`)
    .attr("text-anchor", "middle").attr("font-size", 17.5).attr("fill", TXT).text(p.ylab);

  // data
  const cid = "clip" + idx;
  defs.append("clipPath").attr("id", cid).append("rect")
    .attr("x", xr[0]).attr("y", yTop - 1.5).attr("width", xr[1] - xr[0]).attr("height", yBot - yTop + 3);
  const dg = g.append("g").attr("clip-path", `url(#${cid})`);
  const line = d3.line().x(d => x(d[0] * STEP)).y(d => y(d[1]));
  const area = d3.area().x(d => x(d[0] * STEP)).y0(d => y(d[1])).y1(d => y(d[2]));
  p.lines.forEach((ln, i) => {
    if (p.bands[i]) dg.append("path").attr("d", area(p.bands[i])).attr("fill", BAND_COLORS[i]);
    dg.append("path").attr("d", line(ln)).attr("fill", "none").attr("stroke", LINE_COLORS[i])
      .attr("stroke-width", 1.8).attr("stroke-linejoin", "round");
  });
  [[p.ga, null], [p.rnd, "8,5"]].forEach(([ref, dash]) => {
    if (ref[2] > ref[1]) dg.append("rect").attr("x", xr[0]).attr("width", xr[1] - xr[0])
      .attr("y", y(ref[2])).attr("height", y(ref[1]) - y(ref[2])).attr("fill", REF_BAND);
    dg.append("line").attr("x1", xr[0]).attr("x2", xr[1]).attr("y1", y(ref[0])).attr("y2", y(ref[0]))
      .attr("stroke", GA_COLOR).attr("stroke-width", 2.2).attr("stroke-dasharray", dash);
  });
});
</script></body></html>
